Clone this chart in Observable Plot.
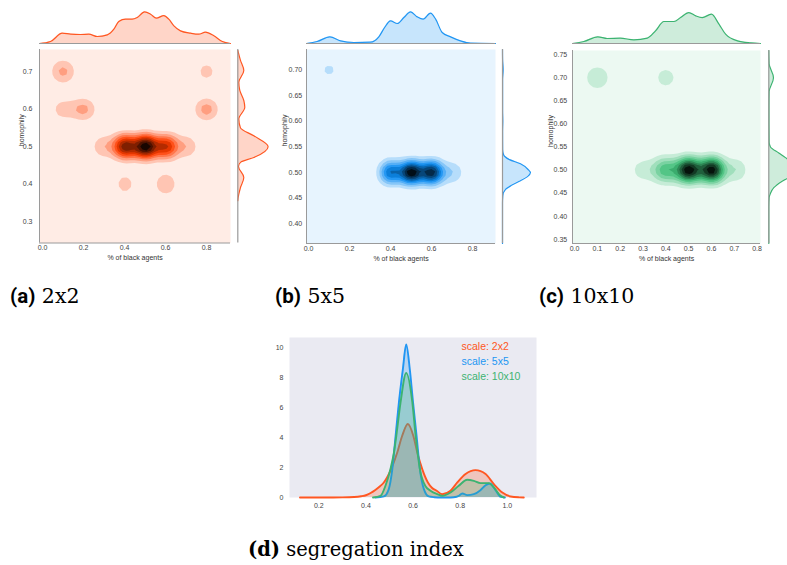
<!DOCTYPE html>
<html><head><meta charset="utf-8">
<script src="https://cdn.jsdelivr.net/npm/d3@7"></script>
<script src="https://cdn.jsdelivr.net/npm/@observablehq/plot@0.6"></script>
<style>
body{margin:0;background:#fff;}
#root{position:relative;width:787px;height:565px;overflow:hidden;background:#fff;}
#root svg{position:absolute;left:0;top:0;}
</style></head><body><div id="root"></div>
<script>
// ---------- data ----------
const scaleNames = ["2x2", "5x5", "10x10"];
const captionTags = ["(a)", "(b)", "(c)", "(d)"];
const captionTexts = ["2x2", "5x5", "10x10", "segregation index"];
const legendLabels = ["scale: 2x2", "scale: 5x5", "scale: 10x10"];
const xLabel = "% of black agents";
const yLabel = "homophily";

// joint samples (x = % of black agents, y = homophily, n = weight)
const a_x = [0.1, 0.8, 0.1, 0.2, 0.8, 0.3, 0.4, 0.5, 0.6, 0.7, 0.4, 0.6];
const a_y = [0.7, 0.7, 0.6, 0.6, 0.6, 0.5, 0.5, 0.5, 0.5, 0.5, 0.4, 0.4];
const a_n = [2.5, 1.4, 1.5, 2.4, 2.5, 2.0, 7.5, 10, 6.5, 2.0, 1.4, 1.9];
const b_x = [0.1, 0.4, 0.5, 0.6, 0.7];
const b_y = [0.7, 0.5, 0.5, 0.5, 0.5];
const b_n = [1.15, 6, 10, 9, 2.0];
const c_x = [0.1, 0.4, 0.3, 0.4, 0.5, 0.6, 0.7];
const c_y = [0.7, 0.7, 0.5, 0.5, 0.5, 0.5, 0.5];
const c_n = [2.0, 1.5, 1.6, 5, 10, 9.5, 2.3];

// marginal densities (arbitrary units)
const a_top_x = [-0.015,0.039,0.096,0.137,0.185,0.226,0.267,0.316,0.348,0.372,0.405,0.437,0.462,0.498,0.527,0.555,0.592,0.616,0.641,0.673,0.722,0.762,0.795,0.836,0.877,0.917];
const a_top_h = [0,6,31,28,27,28,21,26,43,66,73,73,78,95,88,76,84,73,53,38,31,28,34,23,6,0];
const a_right_y = [0.356,0.364,0.391,0.418,0.447,0.458,0.471,0.500,0.529,0.550,0.574,0.605,0.623,0.650,0.672,0.703,0.730,0.757];
const a_right_h = [0,1,8,18,2,8,48,91,48,8,3,21,18,6,3,18,8,0];
const b_top_x = [-0.01,0.042,0.104,0.156,0.221,0.302,0.343,0.371,0.4,0.433,0.465,0.498,0.53,0.559,0.595,0.62,0.652,0.693,0.741,0.79,0.912];
const b_top_h = [0,6,20,8,3,4,20,48,68,60,78,95,80,73,91,73,33,20,8,1,0];
const b_right_y = [0.362,0.44,0.455,0.467,0.475,0.484,0.492,0.50,0.505,0.517,0.525,0.535,0.545,0.58,0.60,0.62,0.68,0.70,0.72,0.739];
const b_right_h = [0,0,1,9,27,54,75,84,78,54,21,3,0.5,0.3,1,0.3,0.3,2,0.3,0];
const c_top_x = [-0.009,0.041,0.102,0.143,0.2,0.26,0.319,0.355,0.392,0.436,0.465,0.501,0.531,0.56,0.6,0.633,0.662,0.714,0.772,0.815];
const c_top_h = [0,6,20,15,16,11,16,38,66,66,78,93,83,78,88,58,28,8,2,0];
const c_right_y = [0.341,0.42,0.44,0.45,0.462,0.476,0.49,0.502,0.515,0.527,0.537,0.55,0.56,0.60,0.64,0.67,0.70,0.73,0.759];
const c_right_h = [0,0,1,5,15,40,75,85,72,50,30,5,1,0.5,0.5,1,14,1,0];

// segregation index densities
const seg_x_2x2 = [0.12,0.2,0.3,0.35,0.38,0.40,0.42,0.44,0.46,0.476,0.507,0.533,0.554,0.578,0.601,0.618,0.639,0.663,0.68,0.70,0.724,0.759,0.788,0.823,0.865,0.908,0.943,0.979,1.014,1.05,1.07];
const seg_y_2x2 = [0,0,0.01,0.03,0.08,0.15,0.3,0.5,0.75,1.0,1.89,3.0,4.11,4.89,4.11,3.0,1.89,1.0,0.65,0.45,0.22,0.45,1.0,1.56,1.82,1.56,0.89,0.33,0.07,0.01,0];
const seg_x_5x5 = [0.44,0.476,0.497,0.512,0.526,0.54,0.557,0.571,0.586,0.6,0.615,0.629,0.646,0.667,0.69,0.72,0.76,0.785,0.794,0.809,0.83,0.858,0.886,0.908,0.926,0.95,0.972,0.99];
const seg_y_5x5 = [0,0.07,0.56,1.89,4.11,6.33,8.56,10.18,8.56,6.33,4.11,1.89,0.56,0.07,0.02,0,0,0.05,0.11,0.27,0.16,0.22,0.49,0.82,0.93,0.49,0.04,0];
const seg_x_10x10 = [0.43,0.462,0.483,0.504,0.519,0.529,0.547,0.571,0.597,0.611,0.629,0.653,0.674,0.703,0.724,0.759,0.794,0.83,0.858,0.886,0.922,0.943,0.972,0.986];
const seg_y_10x10 = [0,0.11,0.78,1.89,3.0,4.11,6.33,8.29,6.33,4.11,1.89,0.75,0.45,0.22,0.11,0.33,0.78,1.18,1.11,0.96,0.96,0.67,0.11,0];

const colors = ["#FF5722", "#2196F3", "#3CB371"];

// ---------- helpers ----------
const W = 787, H = 565;
const root = document.getElementById("root");
const FONT = "'Liberation Sans', Arial, sans-serif";
function dims(L, R, T, B) {
  return {width: W, height: H, marginLeft: L, marginRight: W - R, marginTop: T, marginBottom: H - B,
    style: {background: "transparent", overflow: "visible", fontFamily: FONT, fontSize: "7px", color: "#444"}};
}
function ramp(base) {
  const c = d3.hsl(base);
  return t => d3.hsl(c.h, c.s, 0.95 - 0.9 * t).formatHex();
}
function bg(base) { const c = d3.hsl(base); return d3.hsl(c.h, c.s, 0.95).formatHex(); }

function panel(cfg) {
  const {L, R, T, B, xDom, yDom, xTicks, yTicks, xFmt, yFmt, px, py, pn, bw, base, yPad, yLabDx,
         topX, topH, rightY, rightH, spineX} = cfg;
  root.append(Plot.plot({
    ...dims(L, R, T, B),
    x: {domain: xDom, ticks: xTicks, tickFormat: d3.format(xFmt), tickSize: 0, tickPadding: 2.5, label: null},
    y: {domain: yDom, ticks: yTicks, tickFormat: d3.format(yFmt), tickSize: 0, tickPadding: yPad, label: null},
    color: {type: "linear", zero: true, interpolate: () => ramp(base)},
    marks: [
      Plot.frame({fill: bg(base), stroke: null}),
      Plot.density(px, {x: px, y: py, weight: pn, bandwidth: bw, thresholds: 10, fill: "density", stroke: null, clip: true}),
      Plot.ruleX([xDom[0]], {stroke: "#9a9a9a", strokeWidth: 1}),
      Plot.ruleY([yDom[0]], {stroke: "#9a9a9a", strokeWidth: 1}),
      Plot.text([xLabel], {frameAnchor: "bottom", dy: 14.8, lineAnchor: "middle", text: d => d, fill: "#333", fontSize: 7}),
      Plot.text([yLabel], {frameAnchor: "left", dx: yLabDx, rotate: -90, lineAnchor: "middle", text: d => d, fill: "#333", fontSize: 7})
    ]
  }));
  // top marginal
  root.append(Plot.plot({
    ...dims(L, R, 43 - 33.3, 43),
    x: {domain: xDom, axis: null}, y: {domain: [0, 100], axis: null},
    marks: [
      Plot.areaY(topX, {x: topX, y: topH, fill: base, fillOpacity: 0.25, curve: "monotone-x"}),
      Plot.lineY(topX, {x: topX, y: topH, stroke: base, strokeWidth: 1.2, curve: "monotone-x"}),
      Plot.ruleY([0], {stroke: "#9a9a9a", strokeWidth: 1.2})
    ]
  }));
  // right marginal
  root.append(Plot.plot({
    ...dims(spineX, spineX + 33.3, T, B),
    y: {domain: yDom, axis: null}, x: {domain: [0, 100], axis: null},
    marks: [
      Plot.areaX(rightY, {y: rightY, x: rightH, fill: base, fillOpacity: 0.25, curve: "monotone-y"}),
      Plot.lineX(rightY, {y: rightY, x: rightH, stroke: base, strokeWidth: 1.2, curve: "monotone-y"}),
      Plot.ruleX([0], {stroke: "#9a9a9a", strokeWidth: 1.2})
    ]
  }));
}

panel({L: 39, R: 230, T: 49, B: 242.5, xDom: [-0.015, 0.917], yDom: [0.243, 0.759],
  xTicks: [0, 0.2, 0.4, 0.6, 0.8], yTicks: [0.3, 0.4, 0.5, 0.6, 0.7], xFmt: ".1f", yFmt: ".1f",
  px: a_x, py: a_y, pn: a_n, bw: 5.8, base: colors[0], yPad: 7, yLabDx: -18,
  topX: a_top_x, topH: a_top_h, rightY: a_right_y, rightH: a_right_h, spineX: 237.3});
panel({L: 306, R: 495, T: 49, B: 243, xDom: [-0.01, 0.912], yDom: [0.362, 0.739],
  xTicks: [0, 0.2, 0.4, 0.6, 0.8], yTicks: [0.40, 0.45, 0.50, 0.55, 0.60, 0.65, 0.70], xFmt: ".1f", yFmt: ".2f",
  px: b_x, py: b_y, pn: b_n, bw: 5.5, base: colors[1], yPad: 4.3, yLabDx: -22,
  topX: b_top_x, topH: b_top_h, rightY: b_right_y, rightH: b_right_h, spineX: 502});
panel({L: 572, R: 760, T: 50, B: 243, xDom: [-0.009, 0.815], yDom: [0.341, 0.759],
  xTicks: [0, 0.1, 0.2, 0.3, 0.4, 0.5, 0.6, 0.7, 0.8], yTicks: [0.35, 0.40, 0.45, 0.50, 0.55, 0.60, 0.65, 0.70, 0.75], xFmt: ".1f", yFmt: ".2f",
  px: c_x, py: c_y, pn: c_n, bw: 6.2, base: colors[2], yPad: 5.3, yLabDx: -22,
  topX: c_top_x, topH: c_top_h, rightY: c_right_y, rightH: c_right_h, spineX: 768.3});

// ---------- segregation index ----------
const segX = [seg_x_2x2, seg_x_5x5, seg_x_10x10];
const segY = [seg_y_2x2, seg_y_5x5, seg_y_10x10];
const segMarks = [Plot.frame({fill: "#EAEAF2", stroke: null})];
segX.forEach((xs, i) => {
  segMarks.push(Plot.areaY(xs, {x: xs, y: segY[i], fill: colors[i], fillOpacity: 0.25, curve: "monotone-x"}));
  segMarks.push(Plot.lineY(xs, {x: xs, y: segY[i], stroke: colors[i], strokeWidth: 1.9, curve: "monotone-x"}));
});
legendLabels.forEach((lab, i) => {
  segMarks.push(Plot.text([lab], {frameAnchor: "top-left", dx: 172, dy: 9 + i * 15.2, text: d => d,
    textAnchor: "start", lineAnchor: "middle", fill: colors[i], fontSize: 10.5}));
});
root.append(Plot.plot({
  ...dims(289, 536, 337, 497),
  x: {domain: [0.0756, 1.124], ticks: [0.2, 0.4, 0.6, 0.8, 1.0], tickFormat: d3.format(".1f"), tickSize: 0, tickPadding: 5.5, label: null},
  y: {domain: [0, 10.65], ticks: [0, 2, 4, 6, 8, 10], tickSize: 0, tickPadding: 6, label: null},
  marks: segMarks
}));

// ---------- captions ----------
const capPos = [[10, 303], [275, 303], [539, 303], [248, 556]];
const capSize = [20.5, 20.5, 20.5, 19.5];
const ns = "http://www.w3.org/2000/svg";
const capSvg = document.createElementNS(ns, "svg");
capSvg.setAttribute("width", W); capSvg.setAttribute("height", H);
captionTags.forEach((tag, i) => {
  const t = document.createElementNS(ns, "text");
  t.setAttribute("x", capPos[i][0]); t.setAttribute("y", capPos[i][1]);
  t.setAttribute("font-size", capSize[i]);
  const s1 = document.createElementNS(ns, "tspan");
  s1.setAttribute("font-family", i === 3 ? "'DejaVu Serif', serif" : "Roboto, sans-serif");
  s1.setAttribute("font-weight", "bold");
  s1.textContent = tag;
  const s2 = document.createElementNS(ns, "tspan");
  s2.setAttribute("font-family", "'DejaVu Serif', serif");
  s2.textContent = "\u00a0" + captionTexts[i];
  t.append(s1, s2);
  capSvg.append(t);
});
root.append(capSvg);
</script></body></html>
